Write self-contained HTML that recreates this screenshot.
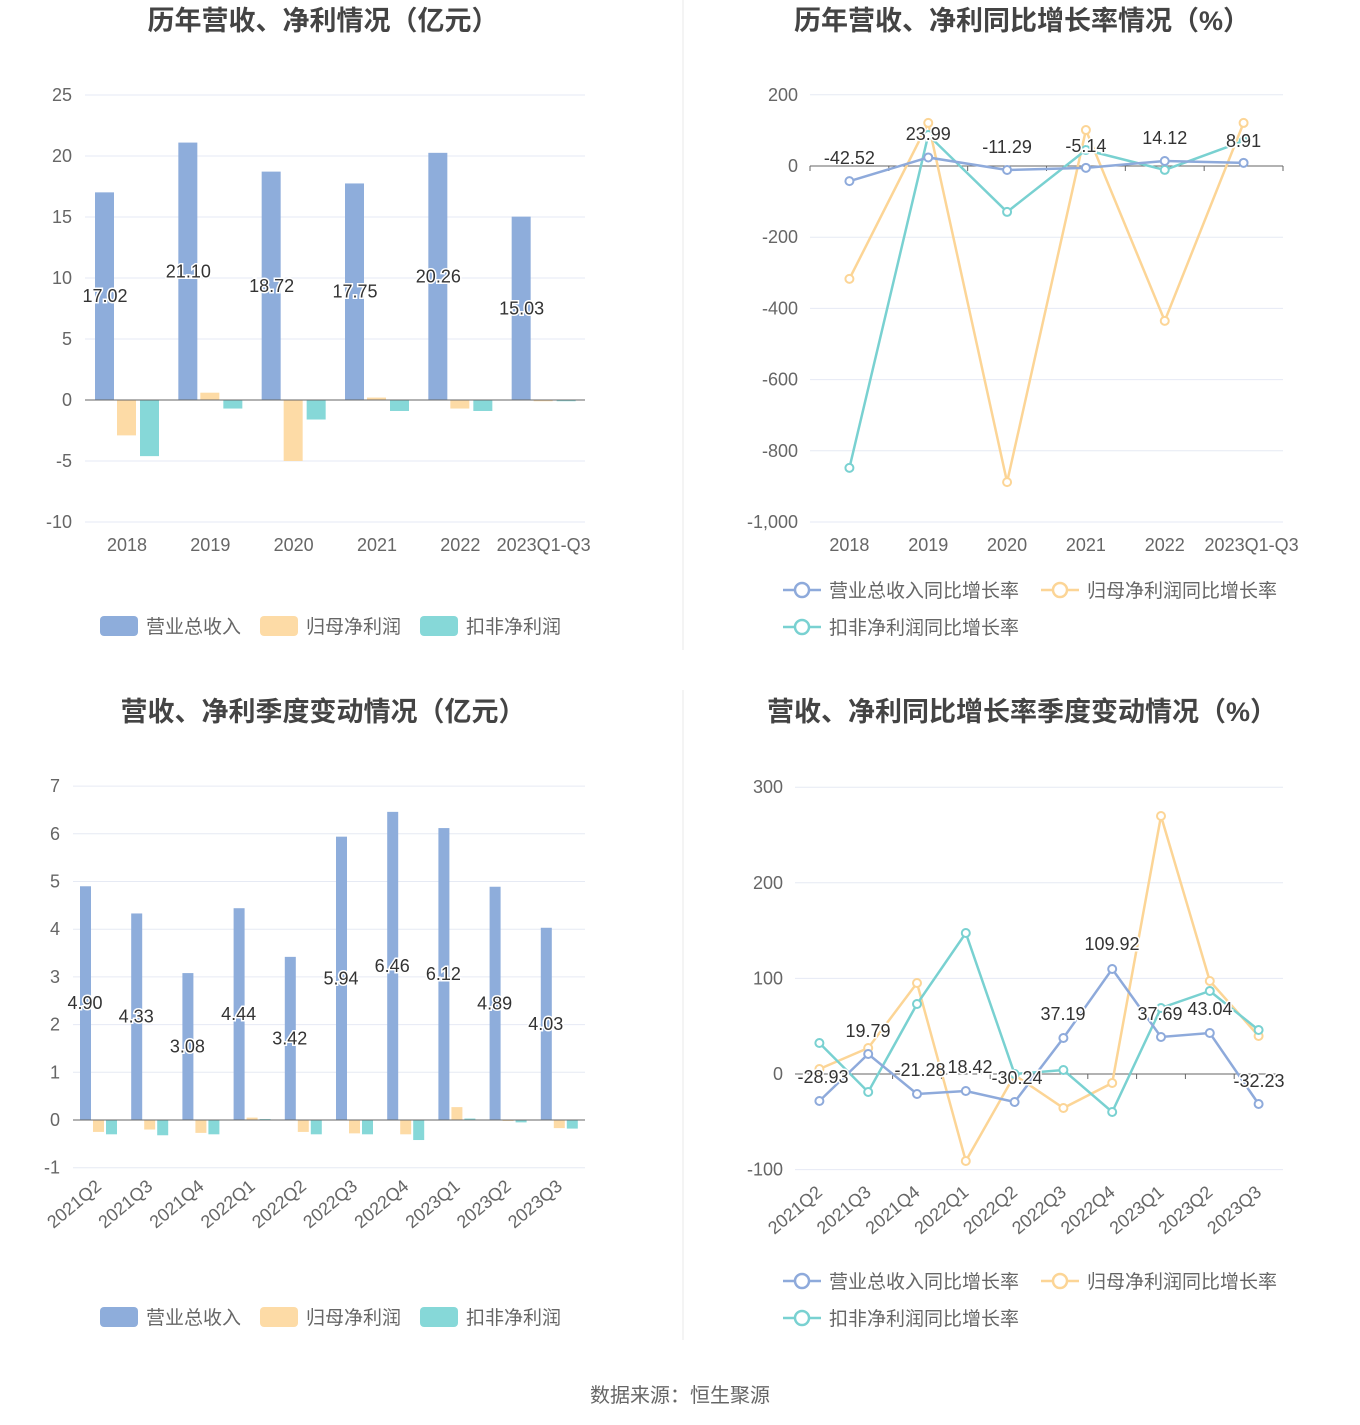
<!DOCTYPE html>
<html><head><meta charset="utf-8">
<style>
html,body{margin:0;padding:0;background:#fff;}
svg{display:block;font-family:"Liberation Sans","Noto Sans CJK SC",sans-serif;}
</style></head>
<body>
<svg id="s" width="1360" height="1425" viewBox="0 0 1360 1425" xmlns="http://www.w3.org/2000/svg"></svg>
<script>
const s=document.getElementById('s');let h='';
const B='#8eaddb',O='#fddba6',T='#86d8d8';
const LB='#8eaadb',LO='#fcd596',LT='#79d1d1';
function t(x,y,str,o){o=o||{};h+=`<text x="${x}" y="${y}" font-size="${o.fs||17}" fill="${o.c||'#666'}" text-anchor="${o.a||'middle'}" ${o.w?'font-weight="bold"':''} ${o.tr?'transform="'+o.tr+'"':''} ${o.halo?'stroke="#fff" stroke-width="3" paint-order="stroke"':''}>${str}</text>`;}
function line(x1,y1,x2,y2,c,w){h+=`<line x1="${x1}" y1="${y1}" x2="${x2}" y2="${y2}" stroke="${c}" stroke-width="${w||1}"/>`;}
line(683,0,683,650,'#e8e8e8');line(683,690,683,1340,'#e8e8e8');
t(323,30,'历年营收、净利情况（亿元）',{fs:27,w:1,c:'#444'});
t(1022,30,'历年营收、净利同比增长率情况（%）',{fs:27,w:1,c:'#444'});
t(323,721,'营收、净利季度变动情况（亿元）',{fs:27,w:1,c:'#444'});
t(1022,721,'营收、净利同比增长率季度变动情况（%）',{fs:27,w:1,c:'#444'});
t(680,1402,'数据来源：恒生聚源',{fs:20,c:'#666'});
{const x0=85,x1=585,y0=400,k=12.2;
for(let v=-10;v<=25;v+=5){const y=y0-v*k;line(x0,y,x1,y,'#e6eaf4');t(72,y+6,v,{a:'end',fs:18});}
const cw=(x1-x0)/6,R=[17.02,21.10,18.72,17.75,20.26,15.03],P=[-2.9,0.6,-5.0,0.2,-0.7,-0.1],K=[-4.6,-0.7,-1.6,-0.9,-0.9,-0.1];
const L=['2018','2019','2020','2021','2022','2023Q1-Q3'];
for(let i=0;i<6;i++){const cx=x0+cw*i;
[[R,B,10],[P,O,32],[K,T,55]].forEach(([a,c,o])=>{const v=a[i],y=v>=0?y0-v*k:y0;h+=`<rect x="${cx+o}" y="${y}" width="19" height="${Math.abs(v*k)}" fill="${c}"/>`;});
t(cx+42,551,L[i],{fs:18});}
line(x0,y0,x1,y0,'#666');
for(let i=0;i<6;i++){const cx=x0+cw*i;t(cx+20,y0-R[i]*k/2+6,R[i].toFixed(2),{fs:18,c:'#333',halo:1});}
}
{const x0=73,x1=585,y0=1120,k=47.7;
for(let v=-1;v<=7;v++){const y=y0-v*k;line(x0,y,x1,y,'#e6eaf4');t(60,y+6,v,{a:'end',fs:18});}
const cw=(x1-x0)/10,R=[4.90,4.33,3.08,4.44,3.42,5.94,6.46,6.12,4.89,4.03],P=[-0.25,-0.2,-0.27,0.05,-0.25,-0.28,-0.3,0.27,-0.02,-0.17],K=[-0.3,-0.32,-0.3,0.02,-0.3,-0.3,-0.42,0.03,-0.05,-0.18];
const L=['2021Q2','2021Q3','2021Q4','2022Q1','2022Q2','2022Q3','2022Q4','2023Q1','2023Q2','2023Q3'];
for(let i=0;i<10;i++){const cx=x0+cw*i;
[[R,B,7],[P,O,20],[K,T,33]].forEach(([a,c,o])=>{const v=a[i],y=v>=0?y0-v*k:y0;h+=`<rect x="${cx+o}" y="${y}" width="11" height="${Math.abs(v*k)}" fill="${c}"/>`;});
const lx=cx+cw/2+4,ly=1188;t(lx,ly,L[i],{fs:18,a:'end',tr:`rotate(-40 ${lx} ${ly})`});}
line(x0,y0,x1,y0,'#666');
for(let i=0;i<10;i++){const cx=x0+cw*i;t(cx+12,y0-R[i]*k/2+6,R[i].toFixed(2),{fs:18,c:'#333',halo:1});}
}
function series(xs,ys,c){h+=`<polyline points="${xs.map((x,i)=>x+','+ys[i]).join(' ')}" fill="none" stroke="${c}" stroke-width="2.5"/>`;xs.forEach((x,i)=>h+=`<circle cx="${x}" cy="${ys[i]}" r="4" fill="#fff" stroke="${c}" stroke-width="2"/>`);}
{const x0=810,x1=1283,y0=166,k=0.356;
for(let v=-1000;v<=200;v+=200){const y=y0-v*k;line(x0,y,x1,y,'#e6eaf4');t(798,y+6,v==-1000?'-1,000':v,{a:'end',fs:18});}
line(x0,y0,x1,y0,'#666');
const cw=(x1-x0)/6,xs=[...Array(6)].map((_,i)=>x0+cw*(i+0.5));
for(let i=0;i<=6;i++)line(x0+cw*i,y0,x0+cw*i,y0+5,'#666');
const L=['2018','2019','2020','2021','2022','2023Q1-Q3'];xs.forEach((x,i)=>t(i==5?x+8:x,551,L[i],{fs:18}));
const R=[-42.52,23.99,-11.29,-5.14,14.12,8.91],P=[-317,121,-888,101,-435,121],K=[-848,87,-129,45,-11,70];
series(xs,P.map(v=>y0-v*k),LO);series(xs,K.map(v=>y0-v*k),LT);series(xs,R.map(v=>y0-v*k),LB);
const ly=[158,134,147,146,138,141];xs.forEach((x,i)=>t(x,ly[i]+6,R[i].toFixed(2),{fs:18,c:'#333',halo:1}));
}
{const x0=795,x1=1283,y0=1074,k=0.956;
for(let v=-100;v<=300;v+=100){const y=y0-v*k;line(x0,y,x1,y,'#e6eaf4');t(783,y+6,v,{a:'end',fs:18});}
line(x0,y0,x1,y0,'#666');
const cw=(x1-x0)/10,xs=[...Array(10)].map((_,i)=>x0+cw*(i+0.5));
for(let i=1;i<10;i++)line(x0+cw*i,y0,x0+cw*i,y0+5,'#666');
const L=['2021Q2','2021Q3','2021Q4','2022Q1','2022Q2','2022Q3','2022Q4','2023Q1','2023Q2','2023Q3'];
xs.forEach((x,i)=>{const lx=x+4,ly=1194;t(lx,ly,L[i],{fs:18,a:'end',tr:`rotate(-40 ${lx} ${ly})`});});
series(xs,[1069,1048,983,1161,1075,1108,1083,816,981,1036],LO);
series(xs,[1043,1092,1004,933,1074,1070,1112,1008,991,1030],LT);
series(xs,[1101,1054,1094,1091,1102,1038,969,1037,1033,1104],LB);
const R=['-28.93','19.79','-21.28','18.42','-30.24','37.19','109.92','37.69','43.04','-32.23'];
const lp=[[823,1077],[868,1031],[920,1070],[970,1067],[1017,1078],[1063,1014],[1112,944],[1160,1014],[1210,1009],[1259,1081]];
lp.forEach((p,i)=>t(p[0],p[1]+6,R[i],{fs:18,c:'#333',halo:1}));
}
function barLeg(y){[[B,'营业总收入',100],[O,'归母净利润',260],[T,'扣非净利润',420]].forEach(([c,n,x])=>{h+=`<rect x="${x}" y="${y-10}" width="38" height="20" rx="4" fill="${c}"/>`;t(x+46,y+7,n,{a:'start',fs:19});});}
barLeg(626);barLeg(1317);
function lineLeg(y){[[LB,'营业总收入同比增长率',783,y],[LO,'归母净利润同比增长率',1041,y],[LT,'扣非净利润同比增长率',783,y+37]].forEach(([c,n,x,yy])=>{line(x,yy,x+38,yy,c,2.5);h+=`<circle cx="${x+19}" cy="${yy}" r="7" fill="#fff" stroke="${c}" stroke-width="2.5"/>`;t(x+46,yy+7,n,{a:'start',fs:19});});}
lineLeg(590);lineLeg(1281);
s.innerHTML=h;
</script>
</body></html>
